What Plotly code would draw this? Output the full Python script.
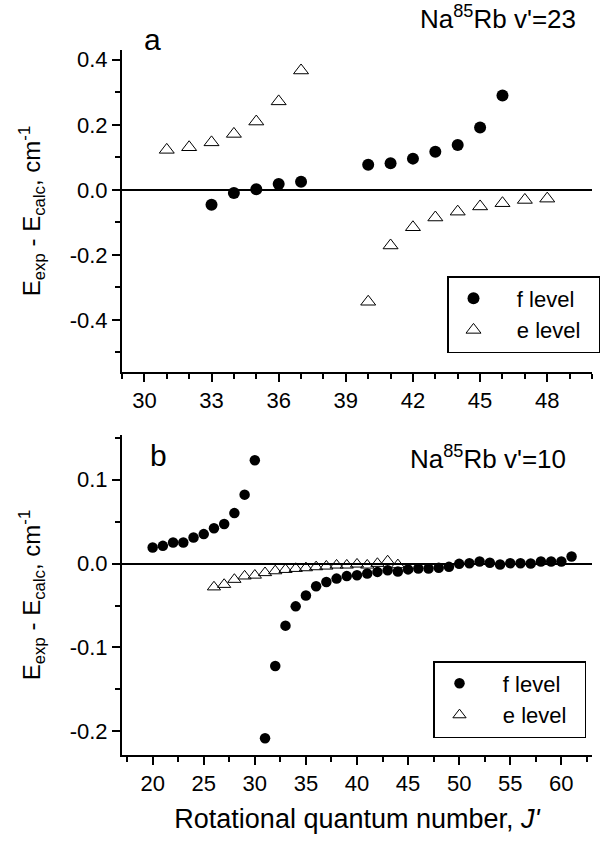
import plotly.graph_objects as go

# ---------------- Panel a (v'=23) ----------------
a_f_J = [33, 34, 35, 36, 37, 40, 41, 42, 43, 44, 45, 46]
a_f_dE = [-0.046, -0.010, 0.002, 0.018, 0.025, 0.077, 0.082, 0.096, 0.117, 0.138, 0.192, 0.290]

a_e_J = [31, 32, 33, 34, 35, 36, 37, 40, 41, 42, 43, 44, 45, 46, 47, 48]
a_e_dE = [0.123, 0.131, 0.146, 0.172, 0.210, 0.272, 0.367,
          -0.344, -0.171, -0.115, -0.085, -0.067, -0.051, -0.041, -0.031, -0.027]

# ---------------- Panel b (v'=10) ----------------
b_f_J = list(range(20, 62))
b_f_dE = [0.019, 0.021, 0.025, 0.025, 0.031, 0.035, 0.042, 0.047, 0.060, 0.082, 0.123,
          -0.208, -0.122, -0.074, -0.051, -0.038, -0.027, -0.022, -0.018, -0.015, -0.014,
          -0.012, -0.010, -0.008, -0.0095, -0.007, -0.006, -0.006, -0.005, -0.004, -0.0004,
          0.0004, 0.0024, 0.0008, -0.0012, 0.0004, 0.0004, 0.0, 0.0024, 0.0024, 0.0024, 0.0083]

b_e_J = list(range(26, 45))
b_e_dE = [-0.028, -0.025, -0.019, -0.015, -0.014, -0.011, -0.0088, -0.0072, -0.006,
          -0.0052, -0.004, -0.0032, -0.002, -0.002, -0.0008, -0.002, 0.0, 0.003, -0.0016]

# tick labels
a_xticks = [30, 33, 36, 39, 42, 45, 48]
a_yticks = [-0.4, -0.2, 0.0, 0.2, 0.4]
a_ytext = ["-0.4", "-0.2", "0.0", "0.2", "0.4"]
b_xticks = [20, 25, 30, 35, 40, 45, 50, 55, 60]
b_yticks = [-0.2, -0.1, 0.0, 0.1]
b_ytext = ["-0.2", "-0.1", "0.0", "0.1"]

legend_names = ["f level", "e level"]
label_a = "Na<sup>85</sup>Rb v'=23"
label_b = "Na<sup>85</sup>Rb v'=10"
y_title = "E<sub>exp</sub> - E<sub>calc</sub>, cm<sup>-1</sup>"
x_title = "Rotational quantum number, <i>J'</i>"

FONT = "Liberation Sans, Arial, sans-serif"
NB = "\u00a0"

# pixel geometry of the page
W, H = 610, 847
L, R, T, B = 122, 10, 50, 92
PW = W - L - R          # 478
PH = H - T - B          # 705
XD = 470 / PW           # plot right edge at x=592


def px_x(x):
    return (x - L) / PW


def px_y(y):
    return (H - B - y) / PH


fig = go.Figure()


def add_pair(fJ, fdE, eJ, edE, xa, ya, leg, csize, tsize):
    fig.add_trace(go.Scatter(
        x=fJ, y=fdE, mode="markers", name=NB * 3 + legend_names[0] + NB * 2,
        xaxis=xa, yaxis=ya, legend=leg,
        marker=dict(symbol="circle", size=csize, color="black", line=dict(width=0)),
    ))
    fig.add_trace(go.Scatter(
        x=eJ, y=edE, mode="markers", name=NB * 3 + legend_names[1] + NB * 2,
        xaxis=xa, yaxis=ya, legend=leg,
        marker=dict(symbol="triangle-up-open", size=tsize, color="black",
                    line=dict(width=1, color="black")),
    ))


add_pair(a_f_J, a_f_dE, a_e_J, a_e_dE, "x", "y", "legend", 12, 13)
add_pair(b_f_J, b_f_dE, b_e_J, b_e_dE, "x2", "y2", "legend2", 10.5, 11.5)

axis_common = dict(
    showline=True, linecolor="black", linewidth=2,
    ticks="outside", ticklen=8, tickwidth=1.5, tickcolor="black",
    showgrid=False, mirror=False, automargin=False,
    tickfont=dict(family=FONT, size=22, color="black"),
)


def minor(d):
    return dict(ticks="outside", dtick=d, tick0=0, ticklen=5, tickwidth=1.5, tickcolor="black")


fig.update_layout(
    width=W, height=H,
    paper_bgcolor="white", plot_bgcolor="white",
    margin=dict(l=L, r=R, t=T, b=B),
    font=dict(family=FONT, color="black"),
    xaxis=dict(axis_common, domain=[0, XD], anchor="y", range=[29, 50],
               tickmode="array", tickvals=a_xticks, zeroline=False,
               minor=minor(1)),
    yaxis=dict(axis_common, domain=[px_y(372), 1], anchor="x", range=[-0.56, 0.43],
               tickmode="array", tickvals=a_yticks, ticktext=a_ytext,
               zeroline=True, zerolinecolor="black", zerolinewidth=1.5,
               minor=minor(0.1),
               title=dict(text=y_title, font=dict(family=FONT, size=24), standoff=22)),
    xaxis2=dict(axis_common, domain=[0, XD], anchor="y2", range=[17, 63],
                tickmode="array", tickvals=b_xticks, zeroline=False,
                minor=minor(2.5),
                title=dict(text=x_title, font=dict(family=FONT, size=27), standoff=14)),
    yaxis2=dict(axis_common, domain=[0, px_y(435)], anchor="x2", range=[-0.228, 0.153],
                tickmode="array", tickvals=b_yticks, ticktext=b_ytext,
                zeroline=True, zerolinecolor="black", zerolinewidth=1.5,
                minor=minor(0.05),
                title=dict(text=y_title, font=dict(family=FONT, size=24), standoff=22)),
    legend=dict(x=px_x(600), xanchor="right", y=px_y(276), yanchor="top",
                bordercolor="black", borderwidth=1.5, bgcolor="white",
                font=dict(family=FONT, size=22), itemwidth=40, tracegroupgap=0),
    legend2=dict(x=px_x(586), xanchor="right", y=px_y(661), yanchor="top",
                 bordercolor="black", borderwidth=1.5, bgcolor="white",
                 font=dict(family=FONT, size=22), itemwidth=40, tracegroupgap=0),
    showlegend=True,
    annotations=[
        dict(text="a", x=px_x(152), y=px_y(40), xref="paper", yref="paper",
             xanchor="center", yanchor="middle", showarrow=False,
             font=dict(family=FONT, size=30)),
        dict(text=label_a, x=px_x(578), y=px_y(17), xref="paper", yref="paper",
             xanchor="right", yanchor="middle", showarrow=False,
             font=dict(family=FONT, size=26)),
        dict(text="b", x=px_x(158), y=px_y(455), xref="paper", yref="paper",
             xanchor="center", yanchor="middle", showarrow=False,
             font=dict(family=FONT, size=30)),
        dict(text=label_b, x=px_x(568), y=px_y(457), xref="paper", yref="paper",
             xanchor="right", yanchor="middle", showarrow=False,
             font=dict(family=FONT, size=26)),
    ],
)

fig.write_html(
    "out.html",
    config={"displayModeBar": False},
    post_script="document.body.style.margin='0';document.body.style.padding='0';",
)
